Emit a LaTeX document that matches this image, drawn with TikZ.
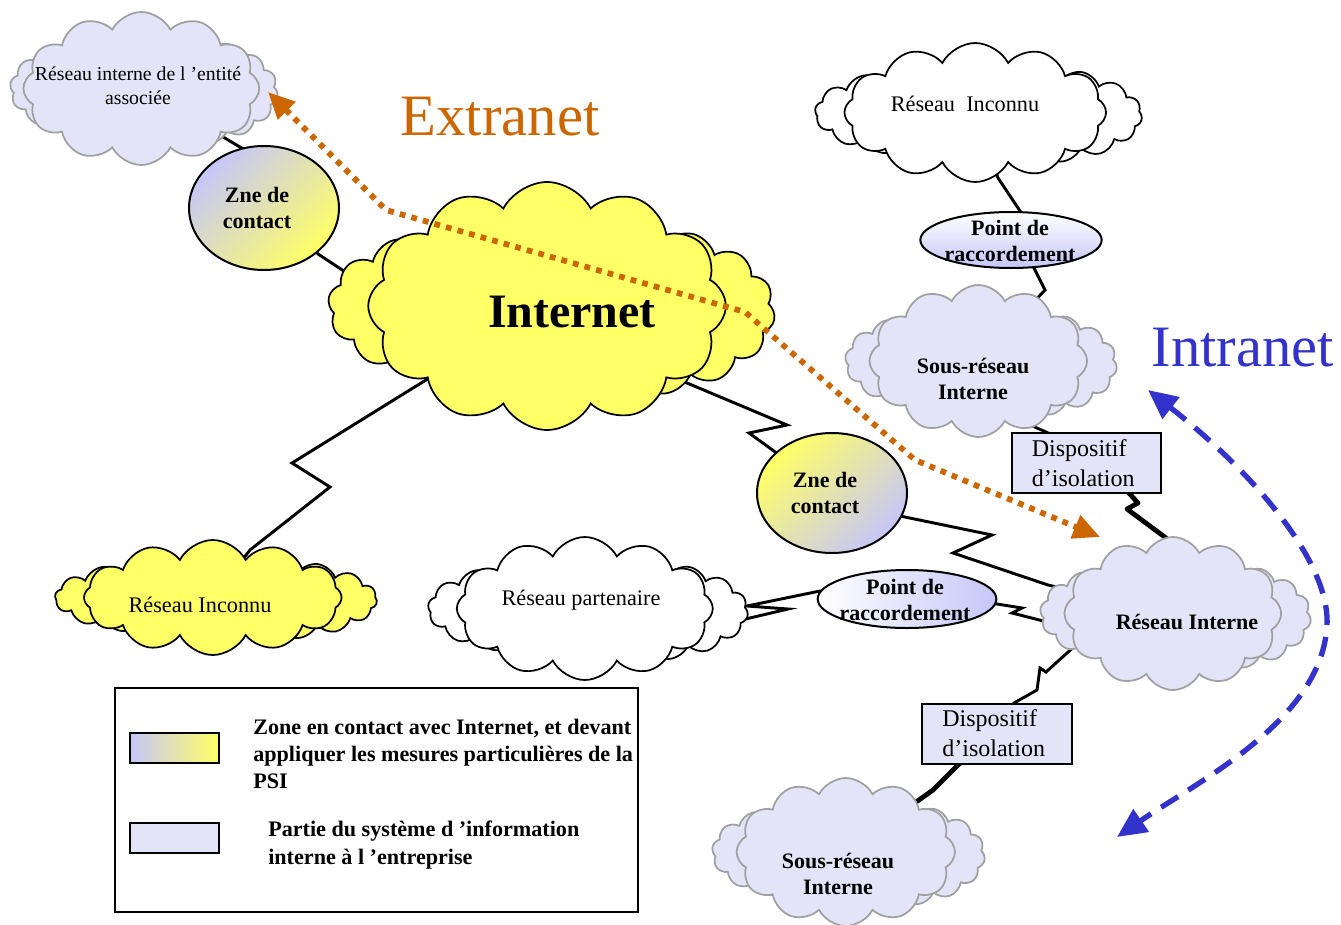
\documentclass[tikz,border=0pt]{standalone}
\usepackage{fontspec}
\setmainfont{Liberation Serif}
\usetikzlibrary{shapes.symbols,shapes.geometric,arrows.meta}
\pgfdeclarelayer{background}
\pgfsetlayers{background,main}

\definecolor{lavcl}{RGB}{228,228,248}
\definecolor{lavgrad}{RGB}{198,198,250}
\definecolor{netyellow}{RGB}{255,255,102}
\definecolor{cloudgray}{RGB}{160,160,160}
\definecolor{extraorange}{RGB}{204,102,0}
\definecolor{intrablue}{RGB}{51,51,204}

\tikzset{
  link/.style={line width=2.2pt, black, line join=miter},
  heavylink/.style={line width=3.6pt, black, line join=round},
  puff/.style={cloud, cloud ignores aspect, cloud puff arc=125, line width=1.3pt, inner sep=0pt},
  lavcloud/.style={fill=lavcl, draw=cloudgray},
  yelcloud/.style={fill=netyellow, draw=black},
  whtcloud/.style={fill=white, draw=black},
  zone/.style={ellipse, draw=black, line width=1.5pt, inner sep=0pt},
  device/.style={draw=black, line width=1.5pt, fill=lavcl, align=left,
    font=\fontsize{18}{22.5}\selectfont, text width=82pt, inner xsep=14.9pt,
    inner ysep=0pt, minimum height=45pt},
  plaintxt/.style={font=\fontsize{16.7}{18}\selectfont, align=center, inner sep=0pt},
  boldtxt/.style={font=\fontsize{16.5}{19.5}\selectfont\bfseries, align=center, inner sep=0pt},
  legendtxt/.style={font=\fontsize{16.6}{20.5}\selectfont\bfseries, align=left, inner sep=0pt, anchor=west},
  extra/.style={extraorange, line width=4.3pt, dash pattern=on 4.3pt off 4.7pt,
    line join=round},
  intra/.style={intrablue, line width=4pt, dash pattern=on 15pt off 9pt,
    {Triangle[length=22pt,width=20pt]}-{Triangle[length=22pt,width=20pt]}},
}

% A network cloud made of a main body and two smaller puff groups behind it.
% #1 name, #2 #3 top-left corner, #4 #5 bottom-right corner, #6 colour style,
% #7 width of the main body as a fraction of the whole cloud
\newcommand\netcloud[7]{%
  \pgfmathsetmacro\ncW{#4-#2}\pgfmathsetmacro\ncH{#5-#3}%
  \pgfmathsetmacro\ncX{(#2+#4)/2}\pgfmathsetmacro\ncY{(#3+#5)/2}%
  \node[puff,#6,cloud puffs=15, minimum width={0.62*\ncW*0.75pt},
        minimum height={0.68*\ncH*0.75pt}] (#1-r) at ({\ncX+0.19*\ncW},{\ncY+0.02*\ncH}) {};
  \node[puff,#6,cloud puffs=13, minimum width={0.55*\ncW*0.75pt},
        minimum height={0.6*\ncH*0.75pt}] (#1-l) at ({\ncX-0.225*\ncW},{\ncY}) {};
  \node[puff,#6,cloud puffs=12, minimum width={#7*\ncW*0.75pt},
        minimum height={\ncH*0.75pt}] (#1) at ({\ncX-0.01*\ncW},{\ncY}) {};
}

\begin{document}
\begin{tikzpicture}[x=0.75pt,y=-0.75pt]
\useasboundingbox (0,0) rectangle (1341,924);

% ---------- clouds ----------
\netcloud{assoc}{10}{12}{278}{165}{lavcloud}{0.88}
\netcloud{internet}{328}{182}{775}{430}{yelcloud}{0.8}
\netcloud{unkr}{815}{43}{1142}{182}{whtcloud}{0.8}
\netcloud{subnet1}{845}{285}{1117}{437}{lavcloud}{0.8}
\netcloud{lan}{1040}{537}{1311}{690}{lavcloud}{0.8}
\netcloud{subnet2}{712}{778}{985}{926}{lavcloud}{0.8}
\netcloud{partner}{428}{537}{748}{680}{whtcloud}{0.8}
\netcloud{unkl}{55}{540}{377}{655}{yelcloud}{0.8}

% ---------- contact zones and connection points ----------
\node[zone, minimum width=112.5pt, minimum height=93pt,
      top color=lavgrad, bottom color=netyellow, shading angle=45] (zc1) at (264,208) {};
\node[zone, minimum width=112.5pt, minimum height=90pt,
      top color=netyellow, bottom color=lavgrad, shading angle=45] (zc2) at (832,493) {};
\node[zone, minimum width=136pt, minimum height=42pt,
      top color=white, bottom color=lavgrad] (pr1) at (1011,240) {};
\node[zone, minimum width=134pt, minimum height=43.5pt,
      left color=white, right color=lavgrad] (pr2) at (907,599) {};

% ---------- isolation devices ----------
\node[device] (disp1) at (1086.5,463) {Dispositif\\d’isolation};
\node[device] (disp2) at (997,733.5) {Dispositif\\d’isolation};

% ---------- connectors ----------
\coordinate (k1a) at (245,150);
\coordinate (k1b) at (318,254);
\coordinate (k1c) at (365,285);
\coordinate (k2a) at (413,388);
\coordinate (k2b) at (292,463);
\coordinate (k2c) at (330,487);
\coordinate (k2d) at (250,550);
\coordinate (k3a) at (668,375);
\coordinate (k3b) at (787,425);
\coordinate (k3c) at (749,433);
\coordinate (k4a) at (900,516);
\coordinate (k4b) at (992,535);
\coordinate (k4c) at (953,553);
\coordinate (k4d) at (1048,585);
\coordinate (k5a) at (997,604);
\coordinate (k5b) at (1022,608);
\coordinate (k5c) at (1012,613);
\coordinate (k5d) at (1063,626);
\coordinate (k6a) at (820,591);
\coordinate (k6b) at (747,606);
\coordinate (k6c) at (788,609);
\coordinate (k6d) at (716,626);
\coordinate (k7a) at (998,178);
\coordinate (k7b) at (1022,214);
\coordinate (k8a) at (1033,266);
\coordinate (k8b) at (1045,290);
\coordinate (k9a) at (1028,424);
\coordinate (k9b) at (1055,436);
\coordinate (k10a) at (1128,492);
\coordinate (k10b) at (1138,503);
\coordinate (k10c) at (1127,509);
\coordinate (k10d) at (1166,538);
\coordinate (k11a) at (1077,644);
\coordinate (k11b) at (1046,672);
\coordinate (k11c) at (1040,668);
\coordinate (k11d) at (1037,690);
\coordinate (k11e) at (1014,703);
\coordinate (k12a) at (958,765);
\coordinate (k12b) at (933,790);

\begin{pgfonlayer}{background}
\draw[link] (assoc.center) -- (k1a) -- (k1b) -- (k1c) -- (internet.center);
\draw[link] (internet.center) -- (k2a) -- (k2b) -- (k2c) -- (k2d) -- (unkl.center);
\draw[link] (internet.center) -- (k3a) -- (k3b) -- (k3c) -- (zc2.center);
\draw[link] (zc2.center) -- (k4a) -- (k4b) -- (k4c) -- (k4d) -- (lan.center);
\draw[link] (pr2.center) -- (k5a) -- (k5b) -- (k5c) -- (k5d) -- (lan.center);
\draw[link] (pr2.center) -- (k6a) -- (k6b) -- (k6c) -- (k6d) -- (partner.center);
\draw[link] (unkr.center) -- (k7a) -- (k7b) -- (pr1.center);
\draw[link] (pr1.center) -- (k8a) -- (k8b) -- (subnet1.center);
\draw[link] (subnet1.center) -- (k9a) -- (k9b) -- (disp1.center);
\draw[heavylink] (disp1.center) -- (k10a) -- (k10b) -- (k10c) -- (k10d) -- (lan.center);
\draw[link] (lan.center) -- (k11a) -- (k11b) -- (k11c) -- (k11d) -- (k11e) -- (disp2.center);
\draw[heavylink] (disp2.center) -- (k12a) -- (k12b) -- (subnet2.center);
\end{pgfonlayer}

% ---------- texts ----------
\node[plaintxt, font=\fontsize{14.8}{18}\selectfont] (assoc-t) at (138,86) {Réseau interne de l ’entité\\associée};
\node[boldtxt] (zc1-t) at (257,208) {Zne de\\contact};
\node[font=\fontsize{36}{40}\selectfont\bfseries, inner sep=0pt] (internet-t) at (572,312) {Internet};
\node[font=\fontsize{44}{48}\selectfont, text=extraorange, inner sep=0pt] (extranet-t) at (500,117) {Extranet};
\node[font=\fontsize{44}{48}\selectfont, text=intrablue, inner sep=0pt] (intranet-t) at (1243,348) {Intranet};
\node[plaintxt] (unkr-t) at (965,104) {Réseau\ \ Inconnu};
\node[boldtxt] (pr1-t) at (1010,241) {Point de\\raccordement};
\node[boldtxt] (subnet1-t) at (973,379) {Sous-réseau\\Interne};
\node[boldtxt] (zc2-t) at (825,493) {Zne de\\contact};
\node[boldtxt] (pr2-t) at (905,600) {Point de\\raccordement};
\node[boldtxt] (lan-t) at (1187,622) {Réseau Interne};
\node[plaintxt] (partner-t) at (581,600) {Réseau partenaire};
\node[plaintxt] (unkl-t) at (200,605) {Réseau Inconnu};
\node[boldtxt] (subnet2-t) at (838,874) {Sous-réseau\\Interne};

% ---------- legend ----------
\node[draw=black, line width=1.2pt, minimum width=392.25pt, minimum height=168pt, inner sep=0pt] (legend) at (376.5,800) {};
\node[draw=black, line width=1.2pt, left color=lavgrad, right color=netyellow,
      minimum width=66.75pt, minimum height=22.5pt, inner sep=0pt] (swatch1) at (174.5,748) {};
\node[draw=black, line width=1.2pt, fill=lavcl,
      minimum width=66.75pt, minimum height=22.5pt, inner sep=0pt] (swatch2) at (174.5,838) {};
\node[legendtxt] (leg1-t) at (253,754) {Zone en contact avec Internet, et devant\\appliquer les mesures particulières de la\\PSI};
\node[legendtxt] (leg2-t) at (268,845) {Partie du système d ’information\\interne à l ’entreprise};

% ---------- extranet and intranet arrows ----------
\coordinate (ox1) at (268,92);
\coordinate (ox2) at (386,210);
\coordinate (ox3) at (745,312);
\coordinate (ox4) at (915,460);
\coordinate (ox5) at (1100,537);
\draw[extra, {Triangle[length=20pt,width=18pt]}-{Triangle[length=20pt,width=18pt]}]
  (ox1) -- (ox2) -- (ox3) -- (ox4) -- (ox5);

\coordinate (ix1) at (1148,390);
\coordinate (ix2) at (1327,625);
\coordinate (ix3) at (1117,837);
\draw[intra] (ix1) .. controls (1250,470) and (1330,560) .. (ix2)
             .. controls (1322,720) and (1200,780) .. (ix3);
\end{tikzpicture}
\end{document}
